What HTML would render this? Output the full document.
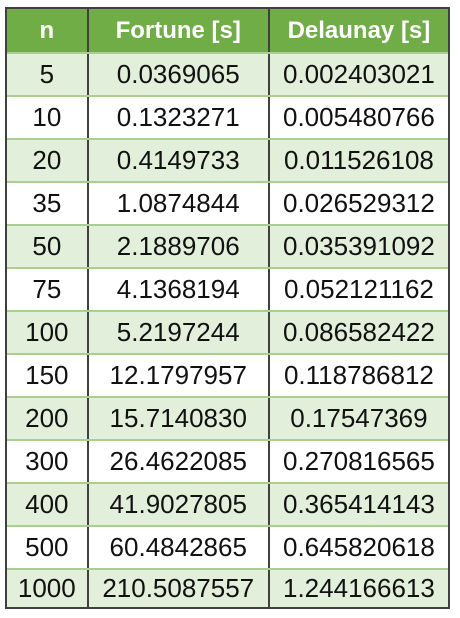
<!DOCTYPE html>
<html><head><meta charset="utf-8"><style>
body{margin:0;background:#fff;width:460px;height:618px;overflow:hidden;font-family:"Liberation Sans",sans-serif}
#t{position:absolute;left:5px;top:7px;width:445px;height:602px;box-sizing:border-box;border:2px solid #404040}
.r{position:absolute;left:0;width:441px;height:43px;display:flex;box-sizing:border-box;border-top:2px solid #A9D08E;font-size:26px;color:#111}
.r.g{background:#E2EFDA}
.r.h{background:#70AD47;color:#fff;font-weight:bold;font-size:24px;border-top:none}
.r div{display:flex;align-items:center;justify-content:center;height:100%;white-space:nowrap}
.c1{width:80px;border-right:2px solid #404040}
.c2{width:180px;border-right:2px solid #404040}
.c3{width:179px}
</style></head><body>
<div id="t">
<div class="r h" style="top:0"><div class="c1">n</div><div class="c2">Fortune [s]</div><div class="c3">Delaunay [s]</div></div>
<div class="r g" style="top:43px"><div class="c1">5</div><div class="c2">0.0369065</div><div class="c3">0.002403021</div></div>
<div class="r" style="top:86px"><div class="c1">10</div><div class="c2">0.1323271</div><div class="c3">0.005480766</div></div>
<div class="r g" style="top:129px"><div class="c1">20</div><div class="c2">0.4149733</div><div class="c3">0.011526108</div></div>
<div class="r" style="top:172px"><div class="c1">35</div><div class="c2">1.0874844</div><div class="c3">0.026529312</div></div>
<div class="r g" style="top:215px"><div class="c1">50</div><div class="c2">2.1889706</div><div class="c3">0.035391092</div></div>
<div class="r" style="top:258px"><div class="c1">75</div><div class="c2">4.1368194</div><div class="c3">0.052121162</div></div>
<div class="r g" style="top:301px"><div class="c1">100</div><div class="c2">5.2197244</div><div class="c3">0.086582422</div></div>
<div class="r" style="top:344px"><div class="c1">150</div><div class="c2">12.1797957</div><div class="c3">0.118786812</div></div>
<div class="r g" style="top:387px"><div class="c1">200</div><div class="c2">15.7140830</div><div class="c3">0.17547369</div></div>
<div class="r" style="top:430px"><div class="c1">300</div><div class="c2">26.4622085</div><div class="c3">0.270816565</div></div>
<div class="r g" style="top:473px"><div class="c1">400</div><div class="c2">41.9027805</div><div class="c3">0.365414143</div></div>
<div class="r" style="top:516px"><div class="c1">500</div><div class="c2">60.4842865</div><div class="c3">0.645820618</div></div>
<div class="r g" style="top:559px;height:39px"><div class="c1">1000</div><div class="c2">210.5087557</div><div class="c3">1.244166613</div></div>
</div>
</body></html>
